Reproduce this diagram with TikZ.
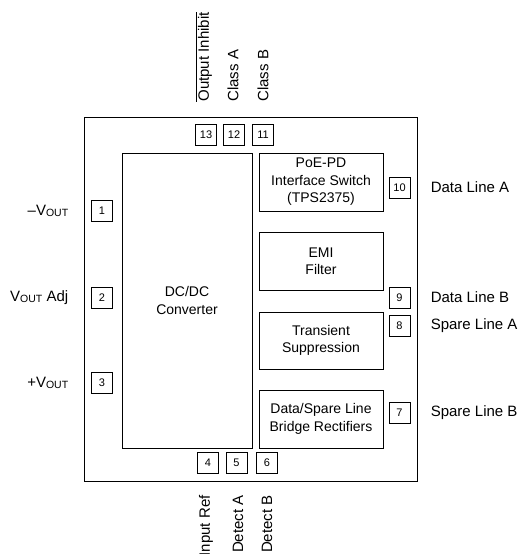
\documentclass[tikz,border=0pt]{standalone}
\usepackage{fontspec}
\setmainfont{Liberation Sans}
\usetikzlibrary{positioning}
\newcommand{\vout}{V\raisebox{-1pt}{\fontsize{10.5}{10.5}\selectfont OUT}}
\begin{document}
\begin{tikzpicture}[x=1pt, y=-1pt, line width=0.9pt,
    font=\fontsize{15}{17.5}\selectfont,
    blk/.style={draw, inner sep=0pt, align=center, font=\fontsize{14}{17.5}\selectfont},
    pinbox/.style={draw, minimum width=21pt, minimum height=21pt, inner sep=0pt, font=\fontsize{11}{11}\selectfont},
    vlab/.style={rotate=90, inner sep=0pt}]
    \useasboundingbox (0,0) rectangle (517,554);
    \clip (0,0) rectangle (517,554);
    % module outline and blocks
    \node[draw, minimum width=333pt, minimum height=364pt, inner sep=0pt] (module) at (250.5,299) {};
    \node[blk, minimum width=130pt, minimum height=295pt] (dcdc) at (187,300.5) {DC/DC\\Converter};
    \node[blk, minimum width=124pt, minimum height=58pt] (poe) at (321,182) {PoE-PD\\Interface Switch\\(TPS2375)};
    \node[blk, minimum width=124pt, minimum height=58pt] (emi) at (321,261) {EMI\\Filter};
    \node[blk, minimum width=124pt, minimum height=57pt] (tvs) at (321,340.5) {Transient\\Suppression};
    \node[blk, minimum width=124pt, minimum height=58pt] (bridge) at (321,419) {Data/Spare Line\\Bridge Rectifiers};
    % pins
    \foreach \n/\x/\y in {13/206/135, 12/234/135, 11/263/135, 4/208/463, 5/236.5/463, 6/267/463,
        1/102/210.5, 2/102/297.5, 3/102/383, 10/399.5/187.5, 9/399.5/297.5, 8/399.5/326, 7/399.5/412.5}
        \node[pinbox] (p\n) at (\x,\y) {\n};
    % pin labels
    \node[anchor=east] (l1) at (72,210.5) {--\vout};
    \node[anchor=east] (l2) at (72,297.5) {\vout{} Adj};
    \node[anchor=east] (l3) at (72,383) {+\vout};
    \foreach \n/\lab in {10/Data Line A, 9/Data Line B, 8/Spare Line A, 7/Spare Line B}
        \node[anchor=west] (l\n) at (427,0 |- p\n) {\lab};
    \node[vlab, anchor=west] (l13) at (204,102) {$\overline{\mbox{Output Inhibit}}$};
    \node[vlab, anchor=west] (l12) at (233,102) {Class A};
    \node[vlab, anchor=west] (l11) at (263,102) {Class B};
    \node[vlab, anchor=east] (l4) at (206,495) {Input Ref};
    \node[vlab, anchor=east] (l5) at (238,495) {Detect A};
    \node[vlab, anchor=east] (l6) at (267,495) {Detect B};
\end{tikzpicture}
\end{document}
